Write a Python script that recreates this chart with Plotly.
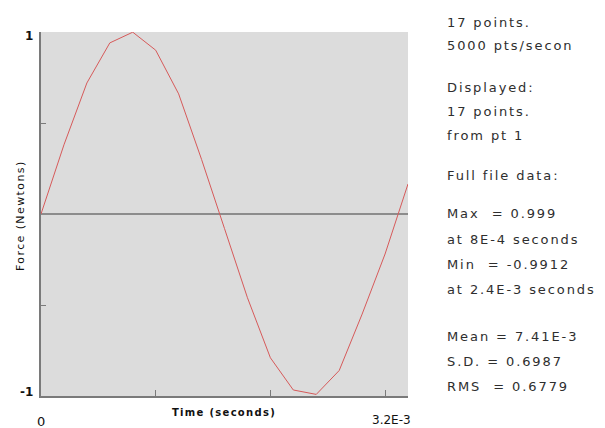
import plotly.graph_objects as go

# Sampled force record: 17 points at 5000 pts/sec
time_s = [0.0, 0.0002, 0.0004, 0.0006, 0.0008, 0.0010, 0.0012, 0.0014, 0.0016,
          0.0018, 0.0020, 0.0022, 0.0024, 0.0026, 0.0028, 0.0030, 0.0032]
force_n = [0.0, 0.38, 0.72, 0.94, 0.999, 0.90, 0.66, 0.30, -0.08,
           -0.46, -0.79, -0.967, -0.9912, -0.86, -0.55, -0.22, 0.165]

y_tick_vals = [-1, -0.5, 0.5, 1]
x_tick_vals = [0.001, 0.002, 0.003]

info_lines = [
    ("17 points.", 22),
    ("5000 pts/secon", 46),
    ("Displayed:", 87),
    ("17 points.", 111),
    ("from pt 1", 135),
    ("Full file data:", 175),
    ("Max  = 0.999", 213),
    ("at 8E-4 seconds", 239),
    ("Min  = -0.9912", 264),
    ("at 2.4E-3 seconds", 289),
    ("Mean = 7.41E-3", 336),
    ("S.D. = 0.6987", 361),
    ("RMS  = 0.6779", 386),
]

W, H = 605, 428
L, R, T, B = 41, 197, 32, 32
plot_w = W - L - R
plot_h = H - T - B


def px_x(px):
    return (px - L) / plot_w


def px_y(py):
    return (H - B - py) / plot_h


def spaced(text, px):
    # widen the glyph spacing of a label
    return '<span style="letter-spacing:%.1fpx">%s</span>' % (px, text)


FONT = "DejaVu Sans"
TXT = "#2e2e2e"

fig = go.Figure()
fig.add_trace(go.Scatter(
    x=time_s, y=force_n, mode="lines",
    line=dict(color="#d65a5a", width=1),
    hoverinfo="skip", showlegend=False,
))

annotations = []
for text, py in info_lines:
    annotations.append(dict(
        text=spaced(text, 1.9), xref="paper", yref="paper",
        x=px_x(445), y=px_y(py),
        xanchor="left", yanchor="middle", showarrow=False,
        font=dict(family=FONT, size=13, color=TXT),
    ))

# axis end labels
annotations += [
    dict(text="<b>1</b>", xref="paper", yref="paper", x=px_x(35), y=px_y(36),
         xanchor="right", yanchor="middle", showarrow=False,
         font=dict(family=FONT, size=12, color="#111")),
    dict(text="<b>-1</b>", xref="paper", yref="paper", x=px_x(35), y=px_y(392),
         xanchor="right", yanchor="middle", showarrow=False,
         font=dict(family=FONT, size=12, color="#111")),
    dict(text="0", xref="paper", yref="paper", x=px_x(41), y=px_y(421),
         xanchor="center", yanchor="middle", showarrow=False,
         font=dict(family=FONT, size=13, color="#111")),
    dict(text="3.2E-3", xref="paper", yref="paper", x=px_x(413), y=px_y(420),
         xanchor="right", yanchor="middle", showarrow=False,
         font=dict(family=FONT, size=12, color="#111")),
    dict(text="<b>" + spaced("Time (seconds)", 1.3) + "</b>", xref="paper",
         yref="paper", x=px_x(224), y=px_y(412), xanchor="center",
         yanchor="middle", showarrow=False,
         font=dict(family=FONT, size=10, color="#111")),
    dict(text=spaced("Force (Newtons)", 1.4), xref="paper", yref="paper",
         x=px_x(20), y=px_y(216), xanchor="center", yanchor="middle",
         textangle=-90, showarrow=False,
         font=dict(family=FONT, size=11, color="#111")),
]

fig.update_layout(
    width=W, height=H, autosize=False,
    margin=dict(l=L, r=R, t=T, b=B, pad=0),
    paper_bgcolor="white", plot_bgcolor="#dcdcdc",
    annotations=annotations,
    showlegend=False,
)
fig.update_xaxes(
    range=[0, 0.0032], showgrid=False, zeroline=False,
    showline=True, linecolor="#7a7a7a", linewidth=1.5,
    ticks="inside", tickvals=x_tick_vals, ticklen=6, tickcolor="#7a7a7a",
    showticklabels=False,
)
fig.update_yaxes(
    range=[-1, 1], showgrid=False,
    zeroline=True, zerolinecolor="#8c8c8c", zerolinewidth=2,
    showline=True, linecolor="#7a7a7a", linewidth=1.5,
    ticks="inside", tickvals=y_tick_vals, ticklen=5, tickcolor="#7a7a7a",
    showticklabels=False,
)

fig.write_html("out.html", config={"displayModeBar": False})
